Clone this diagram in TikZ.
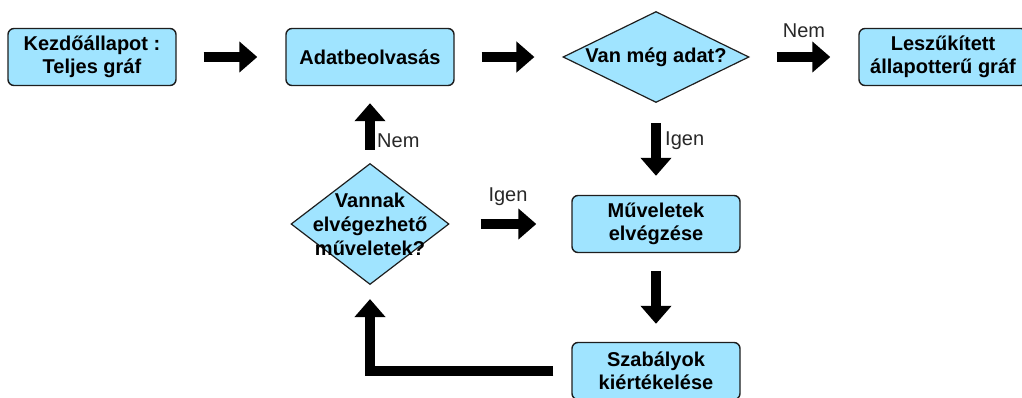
\documentclass[tikz,border=0pt]{standalone}
\usepackage{fontspec}
\setmainfont{Liberation Sans}
\usetikzlibrary{arrows.meta,shapes.geometric}
\definecolor{boxfill}{RGB}{160,228,255}
\definecolor{boxline}{RGB}{30,30,30}
\definecolor{lbl}{RGB}{40,40,40}
\tikzset{
  procbox/.style={draw=boxline, line width=1.4pt, fill=boxfill, rounded corners=6pt,
    minimum width=168pt, minimum height=57pt, inner sep=0pt, align=center,
    font=\fontsize{20}{23}\selectfont\bfseries, text=black},
  decbox/.style={draw=boxline, line width=1.2pt, fill=boxfill, diamond, aspect=1.6,
    inner sep=0pt},
  dectext/.style={align=center, font=\fontsize{20}{24}\selectfont\bfseries, text=black, inner sep=0pt},
  bigarrow/.style={line width=10pt, black, line join=miter,
    -{Triangle[length=18pt,width=30pt]}},
  lab/.style={font=\fontsize{20}{23}\selectfont, text=lbl, inner sep=0pt}
}
\begin{document}
\begin{tikzpicture}[x=1pt,y=-1pt]
\useasboundingbox (0,0) rectangle (1022,397);
\clip (0,0) rectangle (1022,397);

\node[procbox] (b1) at (92,57) {Kezdőállapot :\\Teljes gráf};
\node[procbox] (b2) at (370,57) {Adatbeolvasás};
\node[decbox, minimum width=186pt, minimum height=91pt] (d1) at (656,57) {};
\node[dectext] (d1t) at (656,57) {Van még adat?};
\node[procbox] (b3) at (943,57) {Leszűkített\\állapotterű gráf};
\node[decbox, minimum width=158pt, minimum height=121pt] (d2) at (370,224) {};
\node[dectext] (d2t) at (370,224) {Vannak\\elvégezhető\\műveletek?};
\node[procbox] (b4) at (656,224) {Műveletek\\elvégzése};
\node[procbox] (b5) at (656,371) {Szabályok\\kiértékelése};

\draw[bigarrow, shorten <=27pt, shorten >=28pt] (b1.east) -- (b2.west);
\draw[bigarrow, shorten <=27pt, shorten >=28pt] (b2.east) -- (d1.west);
\draw[bigarrow, shorten <=27pt, shorten >=28pt] (d1.east) -- (b3.west);
\node[lab] (l1) at (804,31) {Nem};
\draw[bigarrow, shorten <=20pt, shorten >=19pt] (d1.south) -- (b4.north);
\node[lab, anchor=west] (l2) at (665,141) {Igen};
\draw[bigarrow, shorten <=18pt, shorten >=18pt] (b4.south) -- (b5.north);
\draw[bigarrow, shorten <=18pt, shorten >=14pt] (b5.west) -- (d2.south |- b5.west) -- (d2.south);
\draw[bigarrow, shorten <=13pt, shorten >=17pt] (d2.north) -- (b2.south);
\node[lab, anchor=west] (l3) at (377,141) {Nem};
\draw[bigarrow, shorten <=31pt, shorten >=35pt] (d2.east) -- (b4.west);
\node[lab] (l4) at (508,197) {Igen};
\end{tikzpicture}
\end{document}
